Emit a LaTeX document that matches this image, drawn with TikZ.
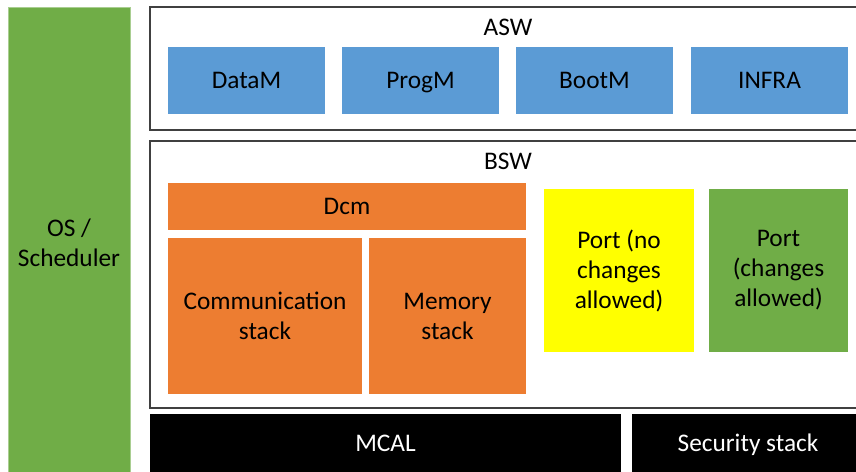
\documentclass[tikz,border=0pt]{standalone}
\usepackage{fontspec}
\setmainfont{Carlito}
\definecolor{osgreen}{RGB}{112,173,71}
\definecolor{swblue}{RGB}{91,155,213}
\definecolor{bsworange}{RGB}{237,125,49}
\definecolor{portyellow}{RGB}{255,255,0}
\definecolor{layergray}{RGB}{64,64,64}
\tikzset{every picture/.style={line width=0.8pt}}
\tikzset{
  blk/.style 2 args={rectangle, inner sep=0pt, align=center, minimum width=#1*0.75pt, minimum height=#2*0.75pt, font=\fontsize{19}{22.5}\selectfont},
  oneline/.style={text height=12.2pt, text depth=0pt},
  layer/.style={draw=layergray, line width=1.5pt, fill=white},
  mcalbox/.style={fill=black, text=white}
}
\begin{document}
\begin{tikzpicture}[x=0.75pt,y=0.75pt,yscale=-1, xscale=1]
\useasboundingbox (0,0) rectangle (856,471);
\clip (0,0) rectangle (856,471);

% OS column
\node[blk={122}{471}, fill=osgreen, draw=osgreen!60!white, line width=0.5pt] (os) at (69,242.5) {OS /\\Scheduler};

% ASW layer
\node[blk={716}{123}, layer] (asw) at (508,68.5) {};
\node[blk={60}{20}, oneline] (aswlbl) at (508,27) {ASW};
\node[blk={157}{67}, oneline, fill=swblue] (datam) at (246.5,80.5) {DataM};
\node[blk={157}{67}, oneline, fill=swblue] (progm) at (420.5,80.5) {ProgM};
\node[blk={157}{67}, oneline, fill=swblue] (bootm) at (594.5,80.5) {BootM};
\node[blk={157}{67}, oneline, fill=swblue] (infra) at (769.5,80.5) {INFRA};

% BSW layer
\node[blk={716}{267}, layer] (bsw) at (508,274.5) {};
\node[blk={60}{20}, oneline] (bswlbl) at (508,161) {BSW};
\node[blk={358}{47}, oneline, fill=bsworange] (dcm) at (347,206) {Dcm};
\node[blk={194}{156}, fill=bsworange] (comstack) at (265,316) {Communication\\stack};
\node[blk={157}{156}, fill=bsworange] (memstack) at (447.5,316) {Memory\\stack};
\node[blk={150}{163}, fill=portyellow] (portfixed) at (619,270.5) {Port (no\\changes\\allowed)};
\node[blk={139}{163}, fill=osgreen] (portfree) at (778.5,270.5) {Port\\(changes\\allowed)};

% MCAL row
\node[blk={471}{59}, oneline, mcalbox] (mcal) at (385.5,443.5) {MCAL};
\node[blk={232}{59}, oneline, mcalbox] (secstack) at (748,443.5) {Security stack};
\end{tikzpicture}
\end{document}
